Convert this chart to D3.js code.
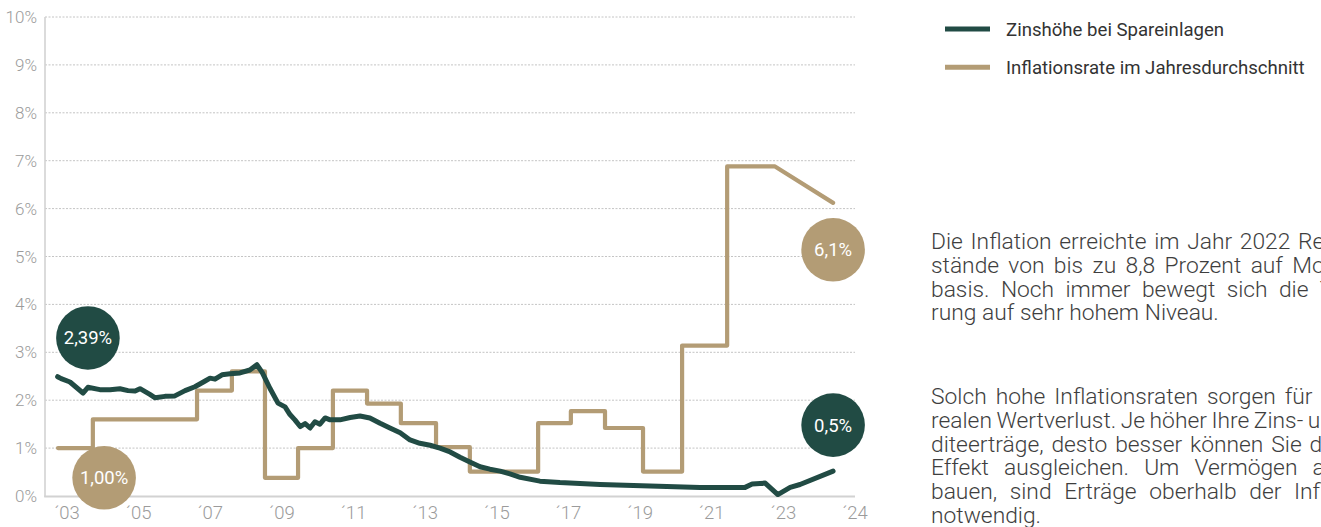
<!DOCTYPE html>
<html><head><meta charset="utf-8">
<script src="https://cdn.jsdelivr.net/npm/d3@7"></script>
<style>
html,body{margin:0;padding:0;background:#fff;overflow:hidden;}
svg{display:block;font-family:Roboto,"Noto Sans",sans-serif;}
</style></head><body>
<svg id="chart" width="1321" height="527"></svg>
<script>
// ---------- data ----------
const yTickValues = [0,1,2,3,4,5,6,7,8,9,10];
const yTickLabels = ["0%","1%","2%","3%","4%","5%","6%","7%","8%","9%","10%"];
const xTickLabels = ["´03","´05","´07","´09","´11","´13","´15","´17","´19","´21","´23","´24"];

const seriesNames = ["Zinshöhe bei Spareinlagen","Inflationsrate im Jahresdurchschnitt"];

// savings interest rate (fractional year, %)
const savingsYears = [2002.99,2003.09,2003.34,2003.71,2003.85,2004.19,2004.48,2004.76,2004.99,2005.19,2005.33,2005.61,2005.76,2006.04,2006.32,2006.61,2006.89,2007.18,2007.32,2007.46,2007.66,2007.89,2008.17,2008.45,2008.65,2008.80,2009.02,2009.25,2009.45,2009.59,2009.73,2009.88,2010.02,2010.16,2010.30,2010.44,2010.59,2010.73,2011.01,2011.30,2011.58,2011.86,2012.15,2012.43,2012.72,2013.00,2013.28,2013.57,2013.85,2014.14,2014.42,2014.70,2014.99,2015.27,2015.56,2015.84,2016.13,2016.69,2017.26,2018.40,2019.82,2021.24,2022.52,2022.72,2023.09,2023.45,2023.80,2024.08,2025.02];
const savingsValues = [2.49,2.45,2.38,2.15,2.27,2.22,2.22,2.24,2.20,2.19,2.24,2.12,2.05,2.08,2.09,2.20,2.28,2.40,2.46,2.44,2.53,2.55,2.57,2.63,2.74,2.58,2.25,1.94,1.86,1.70,1.59,1.45,1.51,1.42,1.55,1.50,1.63,1.59,1.59,1.64,1.67,1.63,1.52,1.42,1.32,1.17,1.10,1.06,1.00,0.92,0.81,0.71,0.61,0.56,0.52,0.46,0.39,0.31,0.28,0.24,0.21,0.18,0.18,0.25,0.27,0.03,0.18,0.24,0.52];

// inflation: step starts (fractional year) and values, then final sloped segment
const inflationStepStarts = [2003.00,2003.99,2006.95,2007.94,2008.88,2009.82,2010.81,2011.78,2012.74,2013.74,2014.70,2016.64,2017.57,2018.54,2019.62,2020.73,2022.01];
const inflationStepValues = [1.00,1.60,2.20,2.60,0.38,1.00,2.20,1.93,1.52,1.02,0.51,1.52,1.77,1.42,0.51,3.14,6.88];
const inflationSlopeStart = [2023.37, 6.88];
const inflationEnd = [2025.02, 6.12];

// bubble annotations
const bubbleTexts = ["2,39%","1,00%","6,1%","0,5%"];
const bubbleYears = [2003.85,2004.31,2025.02,2025.02];
const bubbleValues = [3.30,0.38,5.14,1.48];
const bubbleSeries = [0,1,1,0];

const paragraph1 = [
  "Die Inflation erreichte im Jahr 2022 Rekord-",
  "stände von bis zu 8,8 Prozent auf Monats-",
  "basis. Noch immer bewegt sich die Teue-",
  "rung auf sehr hohem Niveau."
];
const paragraph2 = [
  "Solch hohe Inflationsraten sorgen für einen",
  "realen Wertverlust. Je höher Ihre Zins- und Ren-",
  "diteerträge, desto besser können Sie diesen",
  "Effekt ausgleichen. Um Vermögen aufzu-",
  "bauen, sind Erträge oberhalb der Inflation",
  "notwendig."
];

// ---------- styles ----------
const colors = ["#214b44","#b39c75"];
const svg = d3.select("#chart");

const x = d3.scaleLinear().domain([2003, 2025]).range([58, 832.4]);
const y = d3.scaleLinear().domain([0, 10]).range([496, 17]);
const xLab = d3.scalePoint().domain(xTickLabels).range([67, 855]);

// gridlines
svg.append("g").selectAll("line").data(yTickValues.filter(v=>v>0)).join("line")
  .attr("x1",45).attr("x2",855)
  .attr("y1",d=>y(d)).attr("y2",d=>y(d))
  .attr("stroke","#c4c4c4").attr("stroke-width",1).attr("stroke-dasharray","2,1.5");

// axes lines
svg.append("line").attr("x1",45).attr("x2",45).attr("y1",y(10)).attr("y2",y(0)+1)
  .attr("stroke","#d2d2d2").attr("stroke-width",1.6);
svg.append("line").attr("x1",44.2).attr("x2",855).attr("y1",y(0)+0.5).attr("y2",y(0)+0.5)
  .attr("stroke","#d2d2d2").attr("stroke-width",1.8);

// y labels
svg.append("g").selectAll("text").data(yTickValues).join("text")
  .attr("x",37).attr("y",d=>y(d)+6)
  .attr("text-anchor","end").attr("font-size",17).attr("font-weight",300)
  .attr("fill","#9b9b9b").text((d,i)=>yTickLabels[i]);

// x labels
svg.append("g").selectAll("text").data(xTickLabels).join("text")
  .attr("x",d=>xLab(d)).attr("y",519)
  .attr("text-anchor","middle").attr("font-size",18.5).attr("font-weight",300)
  .attr("fill","#9b9b9b").text(d=>d);

// inflation line
const inflPts = [];
inflationStepStarts.forEach((s,i)=>{
  const end = i < inflationStepStarts.length-1 ? inflationStepStarts[i+1] : inflationSlopeStart[0];
  inflPts.push([s, inflationStepValues[i]]);
  inflPts.push([end, inflationStepValues[i]]);
});
inflPts.push(inflationEnd);
const line = d3.line().x(d=>x(d[0])).y(d=>y(d[1]));
svg.append("path").attr("d", line(inflPts)).attr("fill","none")
  .attr("stroke",colors[1]).attr("stroke-width",4.2)
  .attr("stroke-linejoin","round").attr("stroke-linecap","round");

// savings line
const savPts = savingsYears.map((t,i)=>[t, savingsValues[i]]);
svg.append("path").attr("d", line(savPts)).attr("fill","none")
  .attr("stroke",colors[0]).attr("stroke-width",5)
  .attr("stroke-linejoin","round").attr("stroke-linecap","round");

// bubbles
const bg = svg.append("g").selectAll("g").data(bubbleTexts).join("g")
  .attr("transform",(d,i)=>`translate(${x(bubbleYears[i])},${y(bubbleValues[i])})`);
bg.append("circle").attr("r",31.8).attr("fill",(d,i)=>colors[bubbleSeries[i]]);
bg.append("text").attr("text-anchor","middle").attr("y",6.5)
  .attr("font-size",18.5).attr("fill","#fff").text(d=>d);

// legend
const lg = svg.append("g").selectAll("g").data(seriesNames).join("g")
  .attr("transform",(d,i)=>`translate(945,${29 + i*38.3})`);
lg.append("line").attr("x1",0).attr("x2",45).attr("stroke",(d,i)=>colors[i]).attr("stroke-width",5);
lg.append("text").attr("x",61).attr("y",6.5).attr("font-size",18.6).attr("fill","#333")
  .text(d=>d);

// text block (justified)
const fs = 22.8, colX = 931, colW = 444, lh = 23.75;
function drawPara(lines, y0){
  lines.forEach((ln,li)=>{
    const words = ln.split(" ");
    const t = svg.append("text").attr("y", y0 + li*lh).attr("font-size",fs)
      .attr("font-weight",300).attr("fill","#3e3e3e");
    const spans = words.map(w=>t.append("tspan").text(w));
    const widths = spans.map(s=>s.node().getComputedTextLength());
    const total = d3.sum(widths);
    const last = li === lines.length-1;
    const natural = fs*0.248;
    let gap = (last || words.length<2) ? natural : (colW - total)/(words.length-1);
    if (gap < natural*0.8) gap = natural*0.8;
    let cx = colX;
    spans.forEach((s,i)=>{ s.attr("x",cx); cx += widths[i] + gap; });
  });
}
drawPara(paragraph1, 249);
drawPara(paragraph2, 404);
</script>
</body></html>
